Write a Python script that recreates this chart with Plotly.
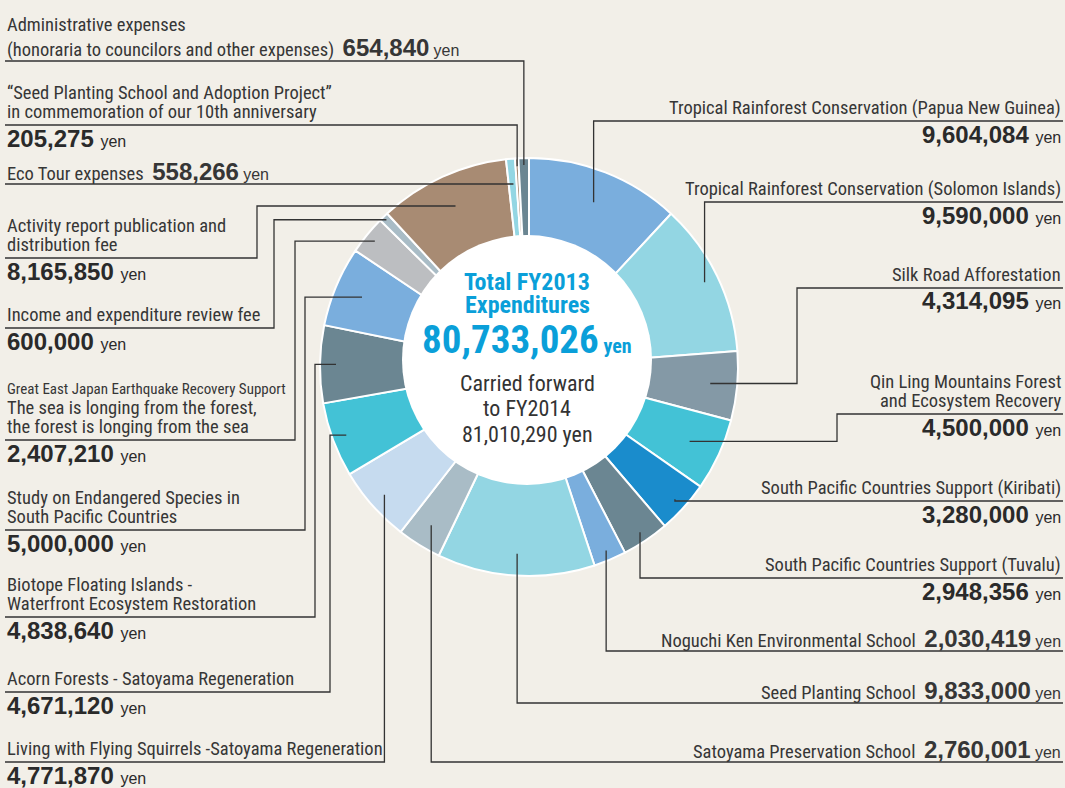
import math
import plotly.graph_objects as go

# FY2013 expenditures, clockwise from 12 o'clock
categories = [
    "Tropical Rainforest Conservation (Papua New Guinea)",
    "Tropical Rainforest Conservation (Solomon Islands)",
    "Silk Road Afforestation",
    "Qin Ling Mountains Forest\nand Ecosystem Recovery",
    "South Pacific Countries Support (Kiribati)",
    "South Pacific Countries Support (Tuvalu)",
    "Noguchi Ken Environmental School",
    "Seed Planting School",
    "Satoyama Preservation School",
    "Living with Flying Squirrels -Satoyama Regeneration",
    "Acorn Forests - Satoyama Regeneration",
    "Biotope Floating Islands -\nWaterfront Ecosystem Restoration",
    "Study on Endangered Species in\nSouth Pacific Countries",
    "Great East Japan Earthquake Recovery Support\nThe sea is longing from the forest,\nthe forest is longing from the sea",
    "Income and expenditure review fee",
    "Activity report publication and\ndistribution fee",
    "Eco Tour expenses",
    "\u201cSeed Planting School and Adoption Project\u201d\nin commemoration of our 10th anniversary",
    "Administrative expenses\n(honoraria to councilors and other expenses)",
]
values = [9604084, 9590000, 4314095, 4500000, 3280000, 2948356, 2030419,
          9833000, 2760001, 4771870, 4671120, 4838640, 5000000, 2407210,
          600000, 8165850, 558266, 205275, 654840]
total_label = "80,733,026"
carried_label = "81,010,290"

colors = ["#7aaedd", "#93d6e3", "#8499a6", "#43c2d6", "#1a8ccc", "#6b8692",
          "#7aaedd", "#93d6e3", "#a9bcc6", "#c6dbef", "#43c2d6", "#6b8692",
          "#7aaedd", "#bcbec1", "#a9bcc6", "#a88b73", "#93d6e3", "#a88b73",
          "#6b8692"]

# label placement: side, leader radius, elbow x, leader line y, value inline
label_layout = [
    dict(side="R", r=177, ex=None, ly=121, inline=False),
    dict(side="R", r=195, ex=None, ly=202, inline=False),
    dict(side="R", r=182, ex=797, ly=288, inline=False),
    dict(side="R", r=177, ex=837, ly=414, inline=False),
    dict(side="R", r=197, ex=None, ly=501, inline=False),
    dict(side="R", r=199, ex=None, ly=578, inline=False),
    dict(side="R", r=199, ex=None, ly=651, inline=True),
    dict(side="R", r=187, ex=None, ly=703, inline=True),
    dict(side="R", r=186, ex=None, ly=762, inline=True),
    dict(side="L", r=193, ex=None, ly=762, inline=False),
    dict(side="L", r=195, ex=330, ly=692, inline=False),
    dict(side="L", r=193, ex=315, ly=617, inline=False),
    dict(side="L", r=181, ex=305, ly=530, inline=False),
    dict(side="L", r=199, ex=295, ly=440, inline=False, small_first=True),
    dict(side="L", r=205, ex=274, ly=328, inline=False),
    dict(side="L", r=177, ex=257, ly=258, inline=False),
    dict(side="L", r=183, ex=None, ly=184, inline=True),
    dict(side="L", r=201, ex=None, ly=125, inline=False),
    dict(side="L", r=202, ex=None, ly=61, inline=True),
]

W, H = 1065, 788
BG = "#f2efe8"
CYAN = "#0a9fd9"
NARROW = "Roboto Condensed, Liberation Sans Narrow, DejaVu Sans Condensed, sans-serif"
SANS = "Liberation Sans, Arial, sans-serif"
cx, cy, R = 529, 367, 209          # donut centre / outer radius (px)
hx, hy, hr = 527, 360, 125         # white centre disc


def px(x):
    return x / W


def py(y):
    return 1 - y / H


def value_html(v):
    return (f'<span style="font-family:{SANS};font-size:24px"><b>{v:,}</b></span>'
            f' <span style="font-family:{SANS};font-size:16px">yen</span>')


fig = go.Figure()

fig.add_trace(go.Pie(
    labels=[c.replace("\n", " ") for c in categories],
    values=values,
    sort=False,
    direction="clockwise",
    rotation=0,
    hole=0.5,
    marker=dict(colors=colors, line=dict(color="white", width=2)),
    textinfo="none",
    hoverinfo="label+value",
    showlegend=False,
    domain=dict(x=[px(cx - R), px(cx + R)], y=[py(cy + R), py(cy - R)]),
))

shapes = [dict(type="circle", xref="paper", yref="paper", layer="above",
               x0=px(hx - hr), x1=px(hx + hr), y0=py(hy + hr), y1=py(hy - hr),
               fillcolor="white", line=dict(width=0))]
annotations = []

total = sum(values)
cum = 0
for cat, v, lay in zip(categories, values, label_layout):
    theta = math.radians(360 * (cum + v / 2) / total)
    cum += v
    ax = cx + lay["r"] * math.sin(theta)
    ay = cy - lay["r"] * math.cos(theta)
    ex = lay["ex"] if lay["ex"] is not None else ax
    ly = lay["ly"]
    xend = W - 2 if lay["side"] == "R" else 5
    pts = [(ax, ay), (ex, ay), (ex, ly), (xend, ly)]
    path = "M " + " L ".join(f"{px(x):.5f},{py(y):.5f}" for x, y in pts)
    shapes.append(dict(type="path", path=path, xref="paper", yref="paper",
                       layer="above", line=dict(color="#333333", width=1.3)))

    tx = W - 2 if lay["side"] == "R" else 5
    anchor = "right" if lay["side"] == "R" else "left"
    lines = cat.split("\n")
    n = len(lines)
    for i, line in enumerate(lines):
        size = 18.5
        if lay.get("small_first") and i == 0:
            size = 15
        text = line
        y = ly - 13 - 19 * (n - 1 - i)
        if lay["inline"] and i < n - 1:
            y -= 4
        if lay["inline"] and i == n - 1:
            text = line + "  " + value_html(v)
        annotations.append(dict(
            x=px(tx), y=py(y), xref="paper", yref="paper",
            text=text, showarrow=False, xanchor=anchor, yanchor="middle",
            font=dict(family=NARROW, size=size, color="#363636"),
        ))
    if not lay["inline"]:
        annotations.append(dict(
            x=px(tx), y=py(ly + 13), xref="paper", yref="paper",
            text=value_html(v), showarrow=False, xanchor=anchor, yanchor="middle",
            font=dict(family=SANS, size=24, color="#2a2a2a"),
        ))

# centre texts
centre = [
    ("<b>Total FY2013</b>", 282, 24, CYAN),
    ("<b>Expenditures</b>", 305, 24, CYAN),
    (f'<b><span style="font-size:39px">{total_label}</span>'
     f'<span style="font-size:20px"> yen</span></b>', 340, 39, CYAN),
    ("Carried forward", 383, 22, "#333333"),
    ("to FY2014", 408, 22, "#333333"),
    (f"{carried_label} yen", 434, 22, "#333333"),
]
for text, y, size, col in centre:
    annotations.append(dict(
        x=px(hx), y=py(y), xref="paper", yref="paper", text=text,
        showarrow=False, xanchor="center", yanchor="middle",
        font=dict(family=NARROW, size=size, color=col),
    ))

fig.update_layout(
    width=W, height=H, autosize=False,
    margin=dict(l=0, r=0, t=0, b=0),
    paper_bgcolor=BG, plot_bgcolor=BG,
    shapes=shapes, annotations=annotations,
)

# drop the browser's default body margin so the figure fills the window
fig.write_html("out.html", config={"displayModeBar": False},
               post_script="document.body.style.margin='0';")
